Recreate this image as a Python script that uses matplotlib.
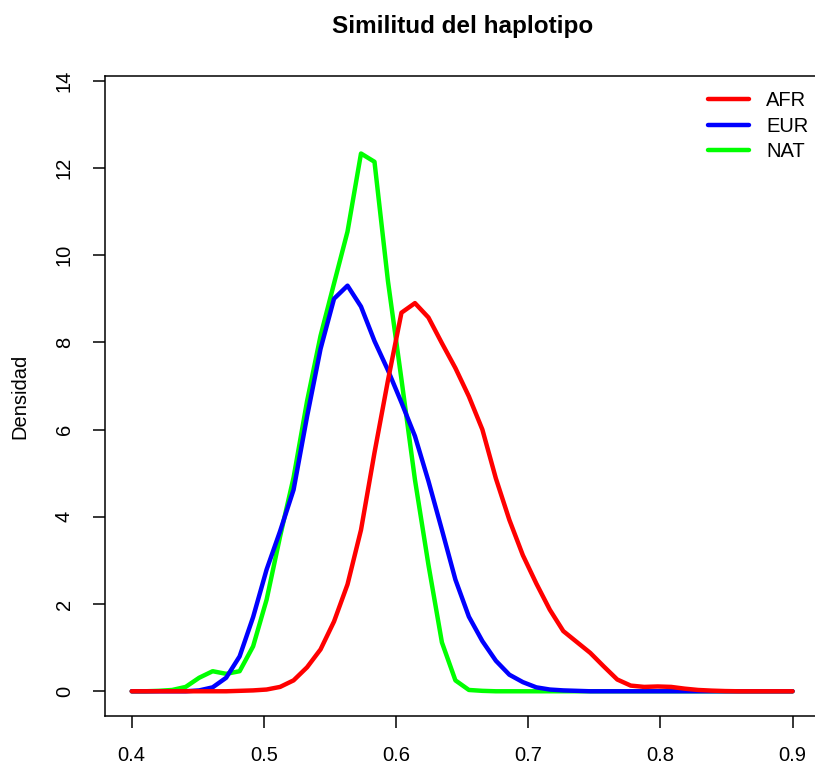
import numpy as np
import matplotlib
matplotlib.use("Agg")
import matplotlib.pyplot as plt

plt.rcParams['font.family'] = ['Liberation Sans', 'DejaVu Sans']

# density estimates on a common grid of 50 points
x = np.linspace(0.4, 0.9, 50)

afr = [0, 0, 0, 0, 0, 0, 0, 0, 0.01, 0.02,
       0.04, 0.10, 0.25, 0.55, 0.96, 1.60, 2.45, 3.70, 5.47, 7.13,
       8.68, 8.90, 8.57, 7.98, 7.41, 6.76, 6.00, 4.88, 3.93, 3.12,
       2.47, 1.87, 1.38, 1.13, 0.88, 0.57, 0.27, 0.13, 0.10, 0.11,
       0.10, 0.06, 0.03, 0.015, 0.005, 0, 0, 0, 0, 0]
eur = [0, 0, 0, 0, 0, 0.02, 0.09, 0.31, 0.80, 1.70,
       2.79, 3.67, 4.62, 6.30, 7.85, 9.00, 9.30, 8.82, 8.03, 7.36,
       6.62, 5.85, 4.82, 3.70, 2.56, 1.71, 1.15, 0.70, 0.38, 0.21,
       0.09, 0.04, 0.02, 0.01, 0, 0, 0, 0, 0, 0,
       0, 0, 0, 0, 0, 0, 0, 0, 0, 0]
nat = [0, 0, 0.01, 0.03, 0.10, 0.31, 0.46, 0.40, 0.46, 1.03,
       2.10, 3.55, 4.90, 6.65, 8.15, 9.35, 10.54, 12.33, 12.14, 9.40,
       7.15, 4.85, 2.90, 1.12, 0.25, 0.03, 0.01, 0, 0, 0,
       0, 0, 0, 0, 0, 0, 0, 0, 0, 0,
       0, 0, 0, 0, 0, 0, 0, 0, 0, 0]

labels = ['AFR', 'EUR', 'NAT']
colors = ['#ff0000', '#0000ff', '#00ff00']

fig = plt.figure(figsize=(8.15, 7.66), dpi=100)
ax = fig.add_axes([105.3 / 815, 50.3 / 766, 713.7 / 815, 639.4 / 766])

lw = 3.2
kw = dict(lw=lw, solid_capstyle='round', solid_joinstyle='round')
l_nat, = ax.plot(x, nat, color=colors[2], **kw)
l_eur, = ax.plot(x, eur, color=colors[1], **kw)
l_afr, = ax.plot(x, afr, color=colors[0], **kw)

ax.set_xlim(0.38, 0.92)
ax.set_ylim(-0.56, 14.1)
ax.set_xticks([0.4, 0.5, 0.6, 0.7, 0.8, 0.9])
ax.set_xticklabels(['0.4', '0.5', '0.6', '0.7', '0.8', '0.9'])
ax.set_yticks([0, 2, 4, 6, 8, 10, 12, 14])
ax.set_yticklabels(['0', '2', '4', '6', '8', '10', '12', '14'],
                   rotation=90, va='center')

for s in ax.spines.values():
    s.set_linewidth(1.1)
ax.tick_params(axis='both', length=8.6, width=1.1, labelsize=14.5)
ax.tick_params(axis='x', pad=13)
ax.tick_params(axis='y', pad=14)

ax.set_title('Similitud del haplotipo', fontsize=17.5, fontweight='bold', pad=31)
ax.set_ylabel('Densidad', fontsize=14.5)
ax.yaxis.set_label_coords(-0.107, 0.5)

ax.legend([l_afr, l_eur, l_nat], labels, loc='upper left',
          bbox_to_anchor=(708 / 815, 1 - 91 / 766),
          bbox_transform=fig.transFigure, frameon=False, fontsize=14.5,
          handlelength=2.05, handletextpad=0.85, labelspacing=0.33,
          borderpad=0, borderaxespad=0)

fig.savefig('out.png', dpi=100)
